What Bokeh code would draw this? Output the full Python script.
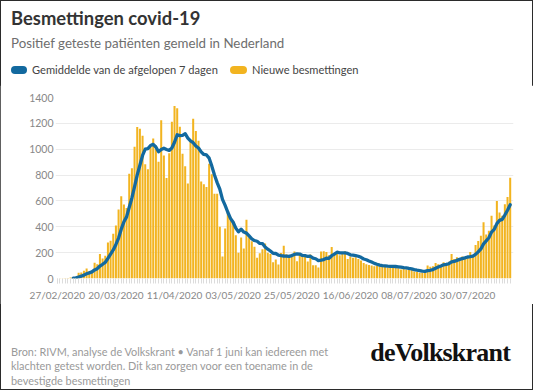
from datetime import datetime
import pandas as pd
from bokeh.plotting import figure
from bokeh.models import Range1d, FixedTicker, DatetimeTickFormatter, Div, ColumnDataSource
from bokeh.layouts import column
from bokeh.embed import file_html
from bokeh.resources import INLINE

# ---------------- data ----------------
start_date = "2020-02-27"
new_cases = [
    0, 1, 1, 4, 4, 8, 6, 14, 44, 46, 60, 77, 56, 61, 121, 111, 190, 155, 176, 278,
    292, 346, 409, 534, 637, 573, 545, 811, 852, 1019, 1172, 1159, 1104, 884, 845, 1019, 1083, 1026, 904, 1224,
    952, 777, 969, 1213, 1335, 1316, 1174, 964, 868, 734, 1061, 1235, 1140, 1066, 750, 729, 708, 887, 806, 655,
    655, 400, 171, 386, 514, 475, 445, 335, 199, 317, 232, 455, 319, 289, 245, 161, 196, 227, 270, 200,
    189, 125, 146, 108, 198, 253, 188, 176, 172, 209, 133, 190, 182, 176, 131, 185, 103, 102, 86, 209,
    210, 205, 180, 243, 185, 190, 180, 200, 210, 150, 170, 160, 165, 150, 140, 120, 110, 105, 100, 95,
    100, 95, 90, 100, 85, 95, 90, 95, 80, 70, 75, 70, 65, 70, 55, 50, 45, 45, 60, 100,
    90, 95, 120, 110, 100, 125, 120, 130, 190, 150, 165, 155, 170, 160, 175, 205, 180, 260, 290, 330,
    435, 340, 370, 485, 410, 600, 510, 485, 575, 630, 780,
]
avg_start_date = "2020-03-04"
avg7 = [
    3.4, 5.4, 11.6, 18.0, 26.0, 36.4, 43.3, 51.1, 66.4, 76.0, 96.6, 110.1, 124.3, 156.0,
    189.0, 221.1, 263.7, 312.9, 381.7, 438.4, 476.6, 550.7, 623.0, 710.1, 801.3, 875.9, 951.7, 1000.1,
    1005.0, 1028.9, 1038.0, 1017.1, 980.7, 997.9, 1007.6, 997.9, 990.7, 1009.3, 1053.4, 1112.3, 1105.1, 1106.9,
    1119.9, 1086.3, 1064.6, 1050.3, 1025.1, 1009.7, 979.1, 959.3, 955.6, 930.7, 869.4, 800.1, 741.4, 691.4,
    611.7, 565.7, 512.4, 465.1, 435.1, 389.4, 360.7, 381.6, 359.6, 351.1, 328.9, 306.6, 293.7, 288.3,
    271.0, 270.3, 243.9, 226.9, 212.6, 195.4, 193.3, 180.7, 176.6, 174.1, 172.4, 170.6, 177.3, 186.3,
    189.9, 188.7, 178.6, 176.9, 170.4, 172.3, 157.1, 152.7, 137.9, 141.7,
    146.6, 157.1, 156.4, 176.4, 188.3, 203.1, 199.0, 197.6, 198.3, 194.0, 183.6, 180.0, 176.4, 172.1,
    163.6, 150.7, 145.0, 135.7, 127.1, 117.1, 110.0, 103.6, 99.3, 97.9, 95.0, 94.3, 93.6, 92.9,
    90.7, 87.9, 84.3, 82.1, 77.9, 75.0, 69.3, 65.0, 61.4, 57.1, 55.7, 60.7, 63.6, 69.3,
    79.3, 88.6, 96.4, 105.7, 108.6, 114.3, 127.9, 132.1, 140.0, 147.9, 154.3, 160.0, 166.4, 168.6,
    172.9, 186.4, 205.7, 228.6, 267.9, 291.4, 315.0, 358.6, 380.0, 424.3, 450.0, 457.1, 490.7, 527.9,
    570.0,
]
y_ticks = [0, 200, 400, 600, 800, 1000, 1200, 1400]
x_tick_labels = ["27/02/2020", "20/03/2020", "11/04/2020", "03/05/2020",
                 "25/05/2020", "16/06/2020", "08/07/2020", "30/07/2020"]

title = "Besmettingen covid-19"
subtitle = "Positief geteste patiënten gemeld in Nederland"
legend_avg = "Gemiddelde van de afgelopen 7 dagen"
legend_new = "Nieuwe besmettingen"
footnote = ["Bron: RIVM, analyse de Volkskrant \u2022 Vanaf 1 juni kan iedereen met",
            "klachten getest worden. Dit kan zorgen voor een toename in de",
            "bevestigde besmettingen"]
logo = "deVolkskrant"

# ---------------- styling ----------------
BAR = "#F2B420"
BLUE = "#13699F"
W = 533
HEAD_H = 85
FL, FR, FT, FB = 55, 513, 97, 278      # frame edges, page px
PLOT_BOTTOM = 304
PLOT_H = PLOT_BOTTOM - HEAD_H
FOOT_H = 390 - PLOT_BOTTOM
DAY = 86400000
PX_PER_DAY = 2.664


def ms(dt):
    return (dt - datetime(1970, 1, 1)).total_seconds() * 1000.0


dates = pd.date_range(start_date, periods=len(new_cases))
avg_dates = pd.date_range(avg_start_date, periods=len(avg7))

x0 = ms(datetime.strptime(start_date, "%Y-%m-%d"))
x_start = x0 - 0.68 * DAY
x_end = x_start + (FR - FL) / PX_PER_DAY * DAY

p = figure(width=W, height=PLOT_H, x_axis_type="datetime", output_backend="svg",
           toolbar_location=None, x_range=Range1d(x_start, x_end),
           y_range=Range1d(0, 1400),
           min_border_left=FL, min_border_right=W - FR,
           min_border_top=FT - HEAD_H, min_border_bottom=PLOT_BOTTOM - FB)
p.outline_line_color = None
p.background_fill_color = "white"
p.border_fill_color = "white"

src = ColumnDataSource(dict(x=dates, top=new_cases))
p.vbar(x="x", top="top", width=0.76 * DAY, source=src, fill_color=BAR, line_color=None)
p.line(avg_dates, avg7, line_width=3.3, line_color=BLUE, line_join="round", line_cap="round")

tick_ms = [ms(datetime.strptime(t, "%d/%m/%Y")) for t in x_tick_labels]
minor_ms = [ms(d.to_pydatetime()) for d in dates]
xa = p.xaxis[0]
xa.ticker = FixedTicker(ticks=tick_ms, minor_ticks=minor_ms)
fmt = "%d/%m/%Y"
xa.formatter = DatetimeTickFormatter(days=fmt, months=fmt, years=fmt, hours=fmt, minutes=fmt,
                                     seconds=fmt, milliseconds=fmt, microseconds=fmt,
                                     minsec=fmt, hourmin=fmt)
xa.axis_line_color = None
xa.major_tick_line_color = "#dcdcdc"
xa.minor_tick_line_color = "#dcdcdc"
xa.major_tick_in = 0
xa.minor_tick_in = 0
xa.major_tick_out = 5
xa.minor_tick_out = 5
xa.major_label_standoff = 5
xa.major_label_text_font = "Lato"
xa.major_label_text_font_size = "10px"
xa.major_label_text_color = "#888888"

ya = p.yaxis[0]
ya.ticker = FixedTicker(ticks=y_ticks)
ya.axis_line_color = None
ya.major_tick_line_color = None
ya.minor_tick_line_color = None
ya.major_tick_out = 0
ya.minor_tick_out = 0
ya.major_tick_in = 0
ya.minor_tick_in = 0
ya.major_label_standoff = 2
ya.major_label_text_font = "Lato"
ya.major_label_text_font_size = "10.5px"
ya.major_label_text_color = "#888888"

p.xgrid.grid_line_color = None
p.ygrid.grid_line_color = "#ebebeb"
p.ygrid.ticker = FixedTicker(ticks=y_ticks)


# ---------------- header / footer as HTML ----------------
def txt(x, baseline, text, size, color, weight="normal", font="Lato", asc=0.887,
        extra="", right=None):
    top = baseline - asc * size
    pos = f"left:{x}px;" if right is None else f"right:{right}px;"
    return (f'<div style="position:absolute;{pos}top:{top:.1f}px;font-family:\'{font}\';'
            f'font-size:{size}px;line-height:1;color:{color};font-weight:{weight};'
            f'white-space:nowrap;{extra}">{text}</div>')


def sw(x, y, w, h, color):
    return (f'<div style="position:absolute;left:{x}px;top:{y}px;width:{w}px;height:{h}px;'
            f'border-radius:{h / 2}px;background:{color};"></div>')


head_html = (
    f'<div style="position:relative;width:{W}px;height:{HEAD_H}px;">'
    + txt(11, 25, title, 18.4, "#333333", "bold")
    + txt(11, 49, subtitle, 13.3, "#6e6e6e")
    + sw(11, 66, 16, 8, BLUE)
    + txt(32, 73.5, legend_avg, 11.1, "#444444")
    + sw(230, 66, 17, 8, BAR)
    + txt(252, 73.5, legend_new, 11.1, "#444444")
    + '</div>'
)

foot_html = f'<div style="position:relative;width:{W}px;height:{FOOT_H}px;">'
for i, line in enumerate(footnote):
    foot_html += txt(11, 52.5 + i * 14.6, line, 10.9, "#9a9a9a")
foot_html += txt(0, 58, logo, 26, "#111111", "bold", font="Liberation Serif", asc=0.84,
                 extra="letter-spacing:-0.8px;", right=W - 510)
foot_html += '</div>'

header = Div(text=head_html, width=W, height=HEAD_H, margin=0)
footer = Div(text=foot_html, width=W, height=FOOT_H, margin=0)

layout = column(header, p, footer, spacing=0,
                styles={"outline": "1.5px solid #2b2b2b", "outline-offset": "-1.5px"})

open("out.html", "w").write(file_html(layout, INLINE))
